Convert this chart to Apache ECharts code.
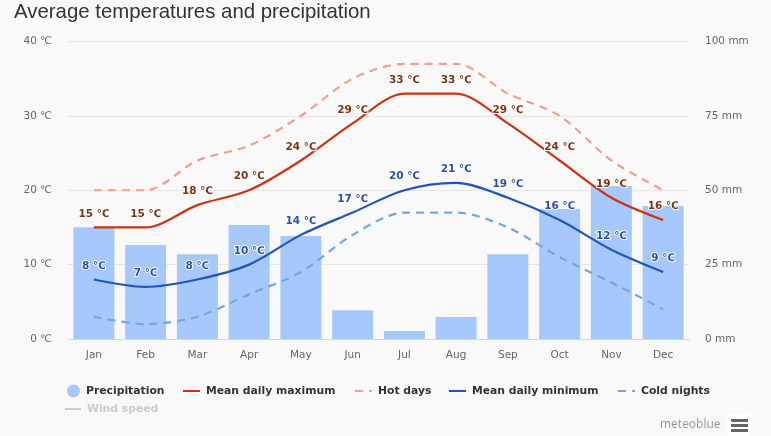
<!DOCTYPE html>
<html lang="en">
<head>
    <meta charset="UTF-8">
    <title>Average temperatures and precipitation</title>
    <script src="https://cdn.jsdelivr.net/npm/echarts@6/dist/echarts.min.js"></script>
    <style>
        html, body { margin: 0; padding: 0; background: #f9f9f9; }
        #chart { width: 771px; height: 436px; }
    </style>
</head>
<body>
<div id="chart"></div>
<script>
    const months = ['Jan', 'Feb', 'Mar', 'Apr', 'May', 'Jun', 'Jul', 'Aug', 'Sep', 'Oct', 'Nov', 'Dec'];
    const precipitation = [37.6, 31.6, 28.5, 38.3, 34.6, 9.7, 2.7, 7.4, 28.5, 43.7, 51.4, 44.7];
    const meanMax = [15, 15, 18, 20, 24, 29, 33, 33, 29, 24, 19, 16];
    const hotDays = [20, 20, 24, 26, 30, 35, 37, 37, 33, 30, 24, 20];
    const meanMin = [8, 7, 8, 10, 14, 17, 20, 21, 19, 16, 12, 9];
    const coldNights = [3, 2, 3, 6, 9, 14, 17, 17, 15, 11, 7.6, 4];
    const windSpeed = []; // only in the legend, no line is drawn

    const font = '"DejaVu Sans", sans-serif';
    const tickColor = '#666';

    function lineSeries(name, data, color, dashed, labelColor) {
        return {
            name, data, type: 'line', smooth: 0.3,
            yAxisIndex: 0, z: dashed ? 3 : 4,
            // tiny symbol: labels are dropped when symbol is 'none'
            symbol: 'circle', symbolSize: 0.01, showAllSymbol: true,
            lineStyle: { color, width: 2.2, type: dashed ? [8, 6] : 'solid' },
            itemStyle: { color },
            label: labelColor ? {
                show: true, position: 'top', distance: 8,
                formatter: '{c} ℃', color: labelColor,
                fontFamily: font, fontSize: 10.5, fontWeight: 'bold',
                textBorderColor: '#fff', textBorderWidth: 2
            } : { show: false }
        };
    }

    function legendAt(left, top, name, extra) {
        return Object.assign({
            left, top, data: [name], padding: 0, itemGap: 0, itemWidth: 17, itemHeight: 12,
            // hide the dot that line series put on their legend icon
            itemStyle: { color: 'transparent', borderWidth: 0 },
            textStyle: { fontFamily: font, fontSize: 10.8, fontWeight: 'bold', color: '#333', padding: [0, 0, 0, 1] }
        }, extra || {});
    }

    const chart = echarts.init(document.getElementById('chart'));
    chart.setOption({
        animation: false,
        backgroundColor: '#f9f9f9',
        title: {
            text: 'Average temperatures and precipitation', left: 14, top: 2, padding: 0,
            textStyle: { fontFamily: '"Liberation Sans", Arial, sans-serif', fontSize: 20.4, fontWeight: 'normal', color: '#333' }
        },
        grid: { left: 68, right: 82, top: 41.5, bottom: 97, containLabel: false },
        legend: [
            legendAt(67, 384.5, 'Precipitation', {
                data: [{ name: 'Precipitation', icon: 'circle' }],
                itemWidth: 13, itemHeight: 13, itemStyle: {}
            }),
            legendAt(182, 385.5, 'Mean daily maximum'),
            legendAt(354, 385.5, 'Hot days'),
            legendAt(448, 385.5, 'Mean daily minimum'),
            legendAt(617, 385.5, 'Cold nights'),
            legendAt(64, 403.5, 'Wind speed', {
                itemWidth: 16,
                textStyle: { fontFamily: font, fontSize: 10.8, fontWeight: 'bold', color: '#ccc', padding: [0, 0, 0, 1] }
            })
        ],
        xAxis: {
            type: 'category', data: months,
            axisLine: { lineStyle: { color: '#ccd6eb', width: 1 } },
            axisTick: { alignWithLabel: true, length: 8, lineStyle: { color: '#ccd6eb' } },
            axisLabel: { color: tickColor, fontFamily: font, fontSize: 10.5, margin: 11 }
        },
        yAxis: [
            {
                type: 'value', min: 0, max: 40, interval: 10,
                axisLine: { show: false }, axisTick: { show: false },
                splitLine: { lineStyle: { color: '#e6e6e6' } },
                axisLabel: { color: tickColor, fontFamily: font, fontSize: 10.5, margin: 16, formatter: '{value} ℃' }
            },
            {
                type: 'value', min: 0, max: 100, interval: 25, position: 'right',
                axisLine: { show: false }, axisTick: { show: false },
                splitLine: { show: false },
                axisLabel: { color: tickColor, fontFamily: font, fontSize: 10.5, margin: 16, formatter: '{value} mm' }
            }
        ],
        series: [
            {
                name: 'Precipitation', type: 'bar', data: precipitation, yAxisIndex: 1,
                barWidth: 41, z: 2, itemStyle: { color: '#a6c8fd' }
            },
            lineSeries('Mean daily maximum', meanMax, '#cc3311', false, '#7d3512'),
            lineSeries('Hot days', hotDays, '#f59d8e', true),
            lineSeries('Mean daily minimum', meanMin, '#2255bb', false, '#2b50a8'),
            lineSeries('Cold nights', coldNights, '#70a9e2', true),
            lineSeries('Wind speed', windSpeed, '#cccccc', false)
        ],
        graphic: [
            { type: 'text', left: 660, top: 419, style: { text: 'meteoblue', fontFamily: '"Open Sans", sans-serif', fontSize: 12, fill: '#999' } },
            { type: 'rect', left: 727, top: 413, shape: { width: 24, height: 22, r: 3 }, style: { fill: '#fff' } },
            { type: 'rect', left: 731, top: 419, shape: { width: 17, height: 3 }, style: { fill: '#666' } },
            { type: 'rect', left: 731, top: 424, shape: { width: 17, height: 3 }, style: { fill: '#666' } },
            { type: 'rect', left: 731, top: 429, shape: { width: 17, height: 3 }, style: { fill: '#666' } }
        ]
    });
</script>
</body>
</html>
